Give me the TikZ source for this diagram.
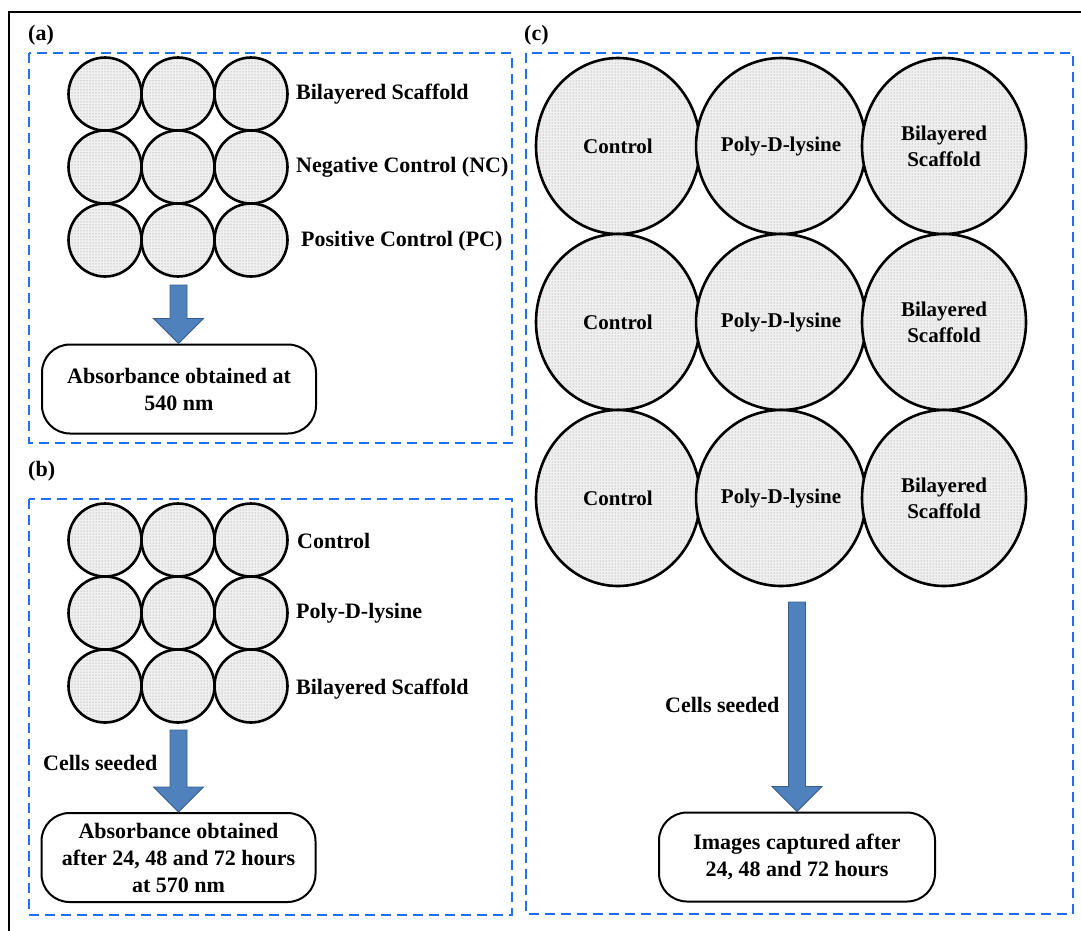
\documentclass[tikz,border=0pt]{standalone}
\usepackage{fontspec}
\setmainfont{Liberation Serif}
\usetikzlibrary{shapes.geometric,patterns,calc}

\definecolor{dashblue}{RGB}{30,110,250}
\definecolor{arrowblue}{RGB}{79,129,189}
\definecolor{arrowedge}{RGB}{56,93,138}

\tikzset{
  well/.style={circle, draw, line width=2.6pt, minimum size=73pt, inner sep=0pt,
    preaction={fill=gray!12}, pattern=dots, pattern color=gray!90},
  bigwell/.style={ellipse, draw, line width=2.6pt, minimum width=164pt, minimum height=176pt,
    inner sep=0pt, preaction={fill=gray!12}, pattern=dots, pattern color=gray!90, align=center,
    font=\bfseries\fontsize{21}{26}\selectfont},
  panel/.style={draw=dashblue, dash pattern=on 10pt off 6pt, line width=2.2pt},
  result/.style={draw, line width=2pt, rounded corners=28pt, minimum width=274pt,
    minimum height=89pt, align=center},
  blockarr/.style={fill=arrowblue, draw=arrowedge, line width=0.8pt},
  lbl/.style={anchor=west, inner sep=0pt}
}

\newcommand\blockarrow[2]{%
  \draw[blockarr] let \p1=(#1), \p2=(#2) in
    (\x1-8.5pt,\y1) -- (\x1+8.5pt,\y1) -- (\x1+8.5pt,\y2+25pt) -- (\x1+25pt,\y2+25pt)
    -- (\x1,\y2) -- (\x1-25pt,\y2+25pt) -- (\x1-8.5pt,\y2+25pt) -- cycle;}

\begin{document}
\begin{tikzpicture}[x=1pt, y=-1pt, font=\bfseries\fontsize{22}{27}\selectfont]
\useasboundingbox (0,0) rectangle (1081,930);
\clip (0,0) rectangle (1081,930);
\draw[line width=2.5pt] (9,12) rectangle (1100,950);

% panels
\draw[panel] (29,53) rectangle (512,443);
\draw[panel] (29,499) rectangle (512,915);
\draw[panel] (526,53) rectangle (1073,914);

\node[lbl] (a-tag) at (28,35) {(a)};
\node[lbl] (b-tag) at (28,471) {(b)};
\node[lbl] (c-tag) at (524,35) {(c)};

% (a)
\foreach \r/\y in {1/94,2/167,3/240}
  \foreach \c/\x in {1/105,2/178,3/251}
    \node[well] (a\r\c) at (\x,\y) {};
\node[lbl] (a-lbl1) at (296,94) {Bilayered Scaffold};
\node[lbl] (a-lbl2) at (296,167) {Negative Control (NC)};
\node[lbl] (a-lbl3) at (301,241) {Positive Control (PC)};
\node[result] (a-res) at (179,389) {Absorbance obtained at\\540 nm};
\coordinate (a-tail) at (178.5,285);
\blockarrow{a-tail}{a-res.north}

% (b)
\foreach \r/\y in {1/540,2/613,3/686}
  \foreach \c/\x in {1/105,2/178,3/251}
    \node[well] (b\r\c) at (\x,\y) {};
\node[lbl] (b-lbl1) at (297,541) {Control};
\node[lbl] (b-lbl2) at (296,613) {Poly-D-lysine};
\node[lbl] (b-lbl3) at (296,689) {Bilayered Scaffold};
\node[result] (b-res) at (178.5,857.5) {Absorbance obtained\\after 24, 48 and 72 hours\\at 570 nm};
\coordinate (b-tail) at (178.5,730);
\blockarrow{b-tail}{b-res.north}
\node[lbl] (b-seed) at (43,763) {Cells seeded};

% (c)
\foreach \r/\y in {1/146,2/322,3/498} {
  \node[bigwell] (c\r1) at (618,\y) {Control};
  \node[bigwell] (c\r2) at (781,\y) {Poly-D-lysine};
  \node[bigwell] (c\r3) at (944,\y) {Bilayered\\Scaffold};
}
\node[result, minimum width=276pt] (c-res) at (797,857) {Images captured after\\24, 48 and 72 hours};
\coordinate (c-tail) at (797,602);
\blockarrow{c-tail}{c-res.north}
\node[lbl] (c-seed) at (665,705) {Cells seeded};
\end{tikzpicture}
\end{document}
